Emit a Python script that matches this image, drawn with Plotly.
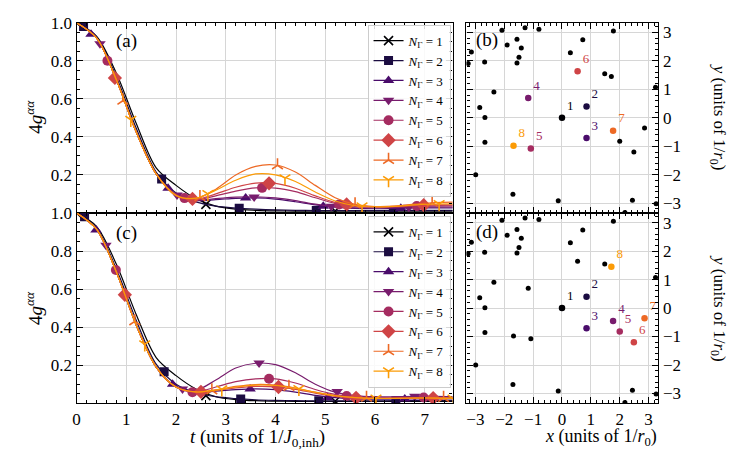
import plotly.graph_objects as go

# ---- data ----
T_GRID = [0.0, 0.4, 0.8, 1.2, 1.6, 2.0, 2.4, 2.8, 3.2, 3.6,
          4.0, 4.4, 4.8, 5.2, 5.6, 6.0, 6.4, 6.8, 7.2, 7.6]

# panel (a): 4 g^{aa}(t) for N_Gamma = 1..8
a_n1 = [1.0, 0.93, 0.735, 0.47, 0.237, 0.145, 0.075, 0.036, 0.02, 0.014, 0.011, 0.01, 0.01, 0.01, 0.01, 0.01, 0.01, 0.01, 0.01, 0.01]
a_n2 = [1.0, 0.925, 0.715, 0.445, 0.215, 0.105, 0.058, 0.036, 0.026, 0.02, 0.016, 0.014, 0.013, 0.013, 0.013, 0.013, 0.013, 0.014, 0.014, 0.014]
a_n3 = [1.0, 0.92, 0.70, 0.425, 0.205, 0.097, 0.066, 0.07, 0.077, 0.079, 0.073, 0.059, 0.042, 0.03, 0.024, 0.022, 0.024, 0.026, 0.027, 0.026]
a_n4 = [1.0, 0.92, 0.70, 0.425, 0.205, 0.096, 0.068, 0.075, 0.083, 0.085, 0.079, 0.065, 0.046, 0.033, 0.027, 0.026, 0.028, 0.031, 0.032, 0.031]
a_n5 = [1.0, 0.92, 0.70, 0.425, 0.205, 0.095, 0.07, 0.09, 0.115, 0.132, 0.131, 0.112, 0.08, 0.05, 0.035, 0.03, 0.032, 0.036, 0.038, 0.037]
a_n6 = [1.0, 0.92, 0.70, 0.425, 0.205, 0.095, 0.072, 0.10, 0.135, 0.157, 0.155, 0.13, 0.09, 0.055, 0.038, 0.033, 0.035, 0.04, 0.043, 0.042]
a_n7 = [1.0, 0.92, 0.70, 0.425, 0.205, 0.09, 0.076, 0.125, 0.20, 0.245, 0.252, 0.215, 0.145, 0.08, 0.045, 0.034, 0.036, 0.046, 0.055, 0.057]
a_n8 = [1.0, 0.92, 0.70, 0.425, 0.205, 0.092, 0.078, 0.12, 0.172, 0.205, 0.2, 0.165, 0.11, 0.063, 0.038, 0.032, 0.035, 0.042, 0.047, 0.048]

# panel (c)
c_n1 = [1.0, 0.93, 0.73, 0.465, 0.24, 0.145, 0.075, 0.034, 0.019, 0.013, 0.011, 0.01, 0.01, 0.01, 0.01, 0.01, 0.01, 0.01, 0.01, 0.01]
c_n2 = [1.0, 0.92, 0.705, 0.435, 0.205, 0.1, 0.055, 0.034, 0.024, 0.018, 0.015, 0.013, 0.012, 0.012, 0.012, 0.012, 0.013, 0.013, 0.013, 0.013]
c_n3 = [1.0, 0.915, 0.69, 0.41, 0.19, 0.087, 0.058, 0.063, 0.071, 0.075, 0.071, 0.058, 0.041, 0.029, 0.023, 0.021, 0.022, 0.023, 0.023, 0.022]
c_n4 = [1.0, 0.915, 0.69, 0.41, 0.19, 0.085, 0.068, 0.122, 0.185, 0.21, 0.203, 0.16, 0.1, 0.058, 0.04, 0.034, 0.034, 0.036, 0.036, 0.034]
c_n5 = [1.0, 0.915, 0.69, 0.41, 0.19, 0.085, 0.06, 0.085, 0.113, 0.128, 0.128, 0.106, 0.072, 0.046, 0.033, 0.028, 0.028, 0.03, 0.03, 0.028]
c_n6 = [1.0, 0.915, 0.69, 0.41, 0.19, 0.085, 0.058, 0.067, 0.08, 0.088, 0.086, 0.073, 0.053, 0.036, 0.028, 0.025, 0.025, 0.027, 0.027, 0.026]
c_n7 = [1.0, 0.915, 0.69, 0.41, 0.19, 0.085, 0.058, 0.07, 0.088, 0.098, 0.095, 0.08, 0.058, 0.04, 0.03, 0.026, 0.026, 0.028, 0.028, 0.026]
c_n8 = [1.0, 0.915, 0.69, 0.41, 0.19, 0.085, 0.059, 0.069, 0.085, 0.095, 0.093, 0.078, 0.057, 0.039, 0.029, 0.025, 0.025, 0.027, 0.027, 0.025]

# marker positions (t, value) per curve
a_mk_t = [[0.0, 2.6, 5.2], [0.14, 1.71, 3.27, 4.82, 6.37], [0.29, 1.84, 3.4, 4.96, 6.52],
          [0.47, 2.02, 3.57, 5.12, 6.68], [0.62, 2.17, 3.73, 5.28, 6.84], [0.77, 2.33, 3.87, 5.43, 6.98],
          [0.93, 2.48, 4.04, 5.6, 7.15], [1.09, 2.64, 4.19, 5.74, 7.29]]
a_mk_y = [[1.0, 0.045, 0.01], [0.98, 0.178, 0.025, 0.013, 0.013], [0.94, 0.13, 0.078, 0.035, 0.025],
          [0.89, 0.095, 0.084, 0.035, 0.03], [0.80, 0.078, 0.132, 0.045, 0.036], [0.71, 0.074, 0.156, 0.045, 0.041],
          [0.59, 0.083, 0.25, 0.045, 0.054], [0.49, 0.10, 0.183, 0.035, 0.047]]
c_mk_t = [[0.0, 2.6, 5.2], [0.16, 1.76, 3.3, 4.87, 6.42], [0.39, 1.93, 3.49, 5.05, 6.6],
          [0.59, 2.13, 3.67, 5.24, 6.8], [0.79, 2.33, 3.87, 5.43, 6.98], [0.97, 2.5, 4.06, 5.62, 7.17],
          [1.17, 2.72, 4.27, 5.83, 7.38], [1.37, 2.92, 4.47, 6.02, 7.57]]
c_mk_y = [[1.0, 0.04, 0.01], [0.98, 0.165, 0.022, 0.013, 0.013], [0.91, 0.10, 0.074, 0.03, 0.022],
          [0.83, 0.075, 0.211, 0.062, 0.036], [0.70, 0.058, 0.128, 0.038, 0.03], [0.57, 0.06, 0.085, 0.028, 0.027],
          [0.43, 0.067, 0.085, 0.028, 0.027], [0.31, 0.073, 0.075, 0.025, 0.025]]

# lattice sites (units of 1/r0)
site_x = [0.0, 0.85, 0.85, -1.17, -1.08, 0.54, 1.77, -1.68, 1.71, 2.0, 2.49, 2.86,
          -2.08, -1.28, -0.80, 1.78, -3.14, -3.25, -2.68, -1.90, -1.56, -1.41, -1.49, -1.56,
          0.29, 0.72, 1.48, 3.24, -2.36, -2.85, -2.67, -2.67, -2.99, -1.70, -0.13, 2.44, 3.26, 2.18]
site_y = [0.0, 0.40, -0.71, 0.70, -1.08, 1.64, -0.45, -0.98, 1.45, -0.82, -1.2, -0.36,
          3.08, 3.16, 3.11, 3.05, 2.31, 1.91, 1.96, 2.56, 2.76, 2.45, 2.13, 1.93,
          2.29, 2.74, 1.55, 1.07, 0.91, 0.36, 0.01, -0.86, -2.0, -2.68, -2.91, -2.89, -3.02, -3.32]
sel_b = [0, 1, 2, 3, 4, 5, 6, 7]
sel_d = [0, 1, 2, 6, 9, 10, 11, 8]

n_labels = ["1", "2", "3", "4", "5", "6", "7", "8"]
colors = ["#000004", "#1b0c41", "#4a0c6b", "#781c6d", "#a52c60", "#cf4446", "#ed6925", "#fb9b06"]
symbols = ["x-thin", "square", "triangle-up", "triangle-down", "circle", "diamond", "y-up", "y-down"]
sizes = [9, 9, 10, 10, 10, 11, 9, 9]

FONT = "Liberation Serif, DejaVu Serif, serif"

fig = go.Figure()


def marker_style(i):
    if symbols[i] in ("x-thin", "y-up", "y-down"):
        return dict(symbol=symbols[i], size=sizes[i], color=colors[i],
                    line=dict(color=colors[i], width=1.6))
    return dict(symbol=symbols[i], size=sizes[i], color=colors[i], line=dict(width=0))


def add_panel(curves, mk_t, mk_y, xa, ya, leg):
    for i, yy in enumerate(curves):
        fig.add_trace(go.Scatter(x=T_GRID, y=yy, mode="lines", xaxis=xa, yaxis=ya,
                                 line=dict(color=colors[i], width=1.2, shape="spline", smoothing=0.9),
                                 showlegend=False, hoverinfo="skip"))
        fig.add_trace(go.Scatter(x=mk_t[i], y=mk_y[i], mode="markers", xaxis=xa, yaxis=ya,
                                 marker=marker_style(i), showlegend=False))
        # legend entry
        fig.add_trace(go.Scatter(x=[None], y=[None], mode="lines+markers", xaxis=xa, yaxis=ya,
                                 line=dict(color=colors[i], width=1.2), marker=marker_style(i),
                                 name="<i>N</i><sub>Γ</sub> = " + n_labels[i], legend=leg))


add_panel([a_n1, a_n2, a_n3, a_n4, a_n5, a_n6, a_n7, a_n8], a_mk_t, a_mk_y, "x", "y", "legend")
add_panel([c_n1, c_n2, c_n3, c_n4, c_n5, c_n6, c_n7, c_n8], c_mk_t, c_mk_y, "x2", "y2", "legend2")


def add_sites(sel, xa, ya):
    bx = [site_x[k] for k in range(len(site_x)) if k not in sel]
    by = [site_y[k] for k in range(len(site_y)) if k not in sel]
    fig.add_trace(go.Scatter(x=bx, y=by, mode="markers", xaxis=xa, yaxis=ya, showlegend=False,
                             marker=dict(color="black", size=5)))
    for i, k in enumerate(sel):
        fig.add_trace(go.Scatter(x=[site_x[k]], y=[site_y[k]], mode="markers+text", xaxis=xa, yaxis=ya,
                                 text=[n_labels[i]], textposition="top right", showlegend=False,
                                 textfont=dict(family=FONT, size=13, color=colors[i]),
                                 marker=dict(color=colors[i], size=6.5)))


add_sites(sel_b, "x3", "y3")
add_sites(sel_d, "x4", "y4")

axis_common = dict(showline=True, linecolor="black", linewidth=1.2, mirror="ticks",
                   ticks="inside", ticklen=6, tickwidth=1, tickcolor="black",
                   showgrid=True, gridcolor="#d6d6d6", gridwidth=1.1, zeroline=False,
                   tickfont=dict(family=FONT, size=17, color="black"))

L = [73 / 732, 451 / 732]
R = [465 / 732, 658 / 732]
TOP = [1 - 208 / 463, 1 - 14 / 463]
BOT = [1 - 402 / 463, 1 - 208 / 463]

t_axis = dict(axis_common, range=[0, 7.56], dtick=1, tick0=0,
              minor=dict(ticks="inside", ticklen=3, dtick=0.2, tickcolor="black", showgrid=False))
g_axis = dict(axis_common, range=[0, 1.0], tickvals=[0.2, 0.4, 0.6, 0.8, 1.0],
              ticktext=["0.2", "0.4", "0.6", "0.8", "1.0"],
              minor=dict(ticks="inside", ticklen=3, dtick=0.05, tickcolor="black", showgrid=False))
sx_axis = dict(axis_common, range=[-3.31, 3.34], dtick=1, tick0=0,
               minor=dict(ticks="inside", ticklen=3, dtick=0.2, tickcolor="black", showgrid=False))
sy_axis = dict(axis_common, range=[-3.34, 3.34], dtick=1, tick0=0, side="right",
               minor=dict(ticks="inside", ticklen=3, dtick=0.2, tickcolor="black", showgrid=False))

leg_style = dict(x=449 / 732, xanchor="right", yanchor="top",
                 bgcolor="rgba(255,255,255,0.85)", bordercolor="#cccccc", borderwidth=1,
                 font=dict(family=FONT, size=13), itemwidth=30, tracegroupgap=0)

fig.update_layout(
    width=732, height=463, margin=dict(l=0, r=0, t=0, b=0),
    paper_bgcolor="white", plot_bgcolor="white",
    font=dict(family=FONT, size=16, color="black"),
    xaxis=dict(t_axis, domain=L, anchor="y", showticklabels=False),
    yaxis=dict(g_axis, domain=TOP, anchor="x"),
    xaxis2=dict(t_axis, domain=L, anchor="y2"),
    yaxis2=dict(g_axis, domain=BOT, anchor="x2"),
    xaxis3=dict(sx_axis, domain=R, anchor="y3", showticklabels=False),
    yaxis3=dict(sy_axis, domain=TOP, anchor="x3"),
    xaxis4=dict(sx_axis, domain=R, anchor="y4"),
    yaxis4=dict(sy_axis, domain=BOT, anchor="x4"),
    legend=dict(leg_style, y=1 - 16 / 463),
    legend2=dict(leg_style, y=1 - 211 / 463),
)


def label(txt, px, py, size, angle=0):
    return dict(text=txt, x=px / 732, y=1 - py / 463, xref="paper", yref="paper",
                xanchor="center", yanchor="middle", showarrow=False, textangle=angle,
                font=dict(family=FONT, size=size, color="black"))


ann = []
for txt, px, py in [("(a)", 123, 33), ("(c)", 123, 228), ("(b)", 486, 32), ("(d)", 486, 227)]:
    ann.append(label(txt, px, py, 19))
for py in (110, 305):
    ann.append(label("4<i>g</i><sup><i>αα</i></sup>", 30, py, 19, -90))
    ann.append(label("<i>y</i> (units of 1/<i>r</i><sub>0</sub>)", 718, py, 17, 90))
ann.append(label("<i>t</i> (units of 1/<i>J</i><sub>0,inh</sub>)", 255, 437, 19))
ann.append(label("<i>x</i> (units of 1/<i>r</i><sub>0</sub>)", 600, 437, 18))
fig.update_layout(annotations=ann)

fig.write_html("out.html", config={"displayModeBar": False},
               post_script="document.body.style.margin='0px';")
